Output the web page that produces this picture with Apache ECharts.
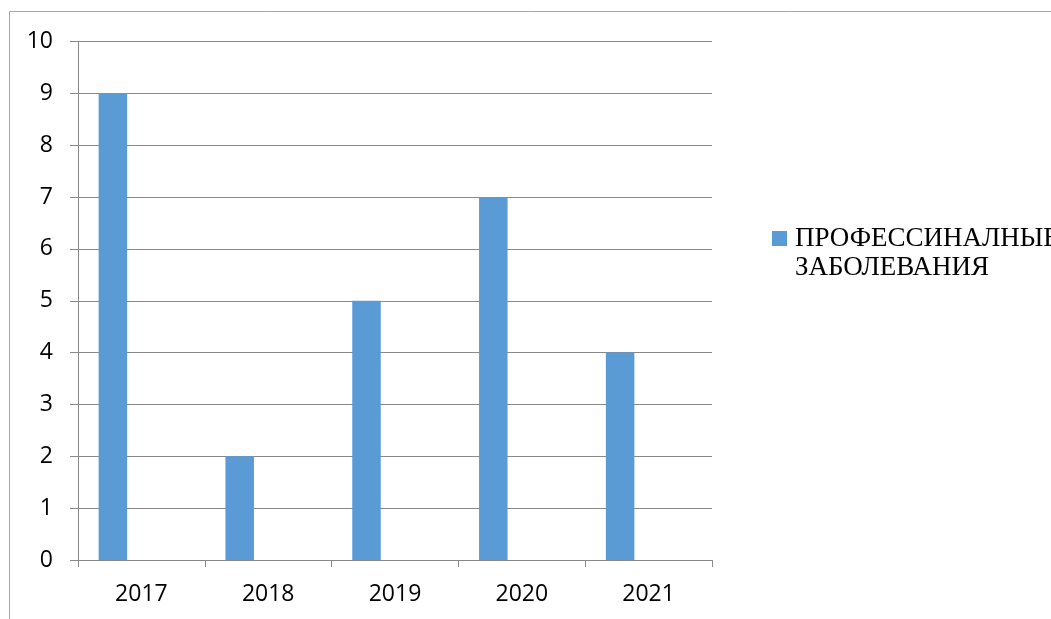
<!DOCTYPE html>
<html>
<head>
<meta charset="utf-8">
<script src="https://cdn.jsdelivr.net/npm/echarts@6/dist/echarts.min.js"></script>
<style>
html, body { margin: 0; padding: 0; background: #fff; }
#container { width: 1051px; height: 619px; }
</style>
</head>
<body>
<div id="container"></div>
<script>
var dom = document.getElementById("container");
var myChart = echarts.init(dom);

var years = ['2017', '2018', '2019', '2020', '2021'];
var values = [9, 2, 5, 7, 4];
var seriesName = 'ПРОФЕССИНАЛНЫЕ ЗАБОЛЕВАНИЯ';

var gridColor = '#898989';
var labelFont = 'Open Sans';

var option = {
	animation: false,
	backgroundColor: '#fff',
	graphic: [{
		type: 'rect',
		shape: { x: 9.5, y: 11.5, width: 1200, height: 800 },
		style: { fill: 'none', stroke: '#a6a6a6', lineWidth: 1 },
		silent: true
	}],
	legend: {
		data: [seriesName],
		orient: 'vertical',
		left: 772,
		top: 195,
		padding: 0,
		itemWidth: 15,
		itemHeight: 15,
		icon: 'rect',
		// blank first line keeps the first text line level with the icon
		formatter: function () {
			return '\nПРОФЕССИНАЛНЫЕ\nЗАБОЛЕВАНИЯ';
		},
		textStyle: {
			fontFamily: 'Liberation Serif',
			fontSize: 27,
			lineHeight: 29,
			color: '#000',
			padding: [0, 0, 0, 3]
		}
	},
	grid: {
		left: 78,
		right: 339,
		top: 41.5,
		bottom: 59,
		containLabel: false
	},
	xAxis: {
		type: 'category',
		data: years,
		axisLine: { show: true, lineStyle: { color: gridColor } },
		axisTick: { show: true, alignWithLabel: false, length: 7, lineStyle: { color: gridColor } },
		axisLabel: { margin: 23, fontFamily: labelFont, fontSize: 23, color: '#000' },
		splitLine: { show: false }
	},
	yAxis: {
		type: 'value',
		min: 0,
		max: 10,
		interval: 1,
		axisLine: { show: true, lineStyle: { color: gridColor } },
		axisTick: { show: true, length: 8, lineStyle: { color: gridColor } },
		axisLabel: { margin: 25, fontFamily: labelFont, fontSize: 23, color: '#000' },
		splitLine: { show: true, lineStyle: { color: gridColor, width: 1 } }
	},
	series: [{
		name: seriesName,
		type: 'bar',
		data: values,
		barWidth: 28.5,
		barGap: '0%',
		itemStyle: { color: '#5b9bd5' }
	}, {
		name: 'pad1',
		type: 'bar',
		data: [],
		barWidth: 28.5,
		barGap: '0%'
	}, {
		name: 'pad2',
		type: 'bar',
		data: [],
		barWidth: 28.5,
		barGap: '0%'
	}]
};

myChart.setOption(option);
</script>
</body>
</html>
